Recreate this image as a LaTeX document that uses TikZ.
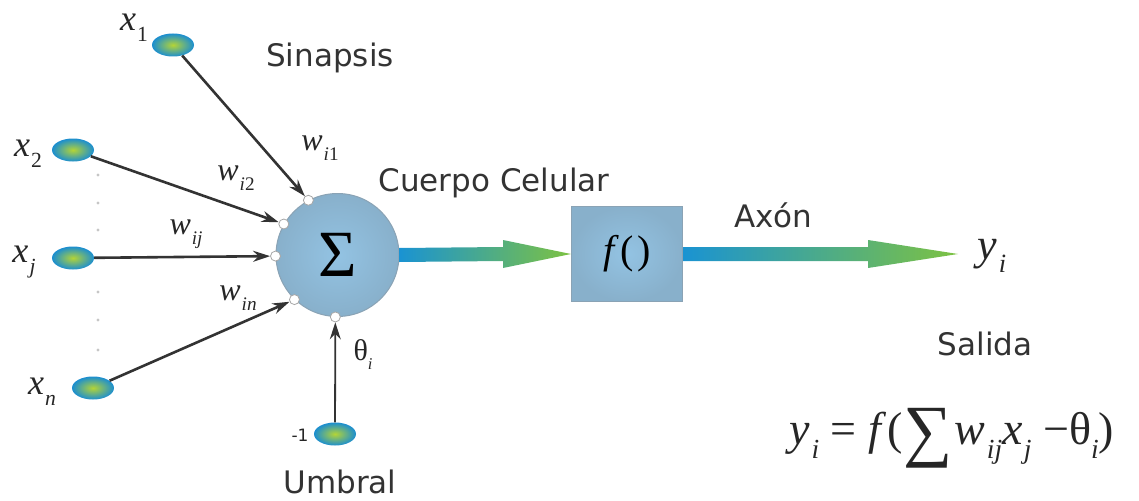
\documentclass[tikz,border=0pt]{standalone}
\usepackage{fontspec}
\setsansfont{DejaVu Sans}
\newfontfamily\tms{Liberation Serif}
\usetikzlibrary{shapes.geometric,arrows.meta,calc}

\definecolor{inblue}{HTML}{1B8ED0}
\definecolor{ingreen}{HTML}{B4D436}
\definecolor{arrblue}{HTML}{1A93D2}
\definecolor{arrgreen}{HTML}{7DC242}
\definecolor{somain}{HTML}{93C3E3}
\definecolor{somaout}{HTML}{88B0CB}
\definecolor{somaedge}{HTML}{8AA3B5}
\definecolor{txt}{HTML}{333333}

% italic symbol with a lowered, reduced index
\newcommand\var[2]{{\itshape #1}\kern0.03em\raisebox{-0.3em}{\scalebox{0.6}{#2}}}

\begin{document}
\begin{tikzpicture}[x=1pt,y=-1pt,
  input/.style={ellipse, minimum width=42pt, minimum height=23pt, inner sep=0pt,
                inner color=ingreen, outer color=inblue},
  syn/.style={circle, draw=gray!70, fill=white, minimum size=10pt, inner sep=0pt, line width=0.8pt},
  wire/.style={draw=black!80, line width=2.6pt, -{Stealth[length=17pt,width=11pt]}},
  lbl/.style={font=\sffamily\fontsize{31}{34}\selectfont, text=txt},
  xlbl/.style={font=\tms\fontsize{36}{38}\selectfont, text=black!85},
  wlbl/.style={font=\tms\fontsize{32}{34}\selectfont, text=black!85},
  dot/.style={gray!45}
]
\useasboundingbox (0,0) rectangle (1139,500);

% inputs
\node[input] (x1) at (173,45) {};
\node[input] (x2) at (73,150) {};
\node[input] (xj) at (73,258) {};
\node[input] (xn) at (93,388) {};
\node[input] (bias) at (335,434) {};

\node[xlbl] (lx1) at (134,28) {\var{x}{1}};
\node[xlbl] (lx2) at (28,154) {\var{x}{2}};
\node[xlbl] (lxj) at (24,262) {\var{x}{\itshape j}};
\node[xlbl] (lxn) at (42,392) {\var{x}{\itshape n}};
\node[font=\sffamily\fontsize{17}{19}\selectfont, text=black!85] (lm1) at (300,435) {-1};

% elided inputs
\foreach \yy in {175,203,230,292,320,350}
  \fill[dot] (98,\yy) circle (1.6pt);

% cell body
\node[circle, minimum size=123pt, inner sep=0pt, draw=somaedge, line width=1pt,
      inner color=somain, outer color=somaout] (sum) at (337.5,255)
      {\tms\fontsize{66}{66}\selectfont Σ};

% synapses on the cell body
\node[syn] (s1) at (sum.118) {};
\node[syn] (s2) at (sum.150) {};
\node[syn] (sj) at (sum.181) {};
\node[syn] (sn) at (sum.226) {};
\node[syn] (sb) at (sum.268) {};

\draw[wire] (x1) -- (s1);
\draw[wire] (x2) -- (s2);
\draw[wire] (xj) -- (sj);
\draw[wire] (xn) -- (sn);
\draw[wire, line width=1.8pt] (bias) -- (sb);

% weights
\node[wlbl] (w1) at (320,148) {\var{w}{\itshape i\upshape 1}};
\node[wlbl] (w2) at (236,178) {\var{w}{\itshape i\upshape 2}};
\node[wlbl] (wj) at (186,234) {\var{w}{\itshape ij}};
\node[wlbl] (wn) at (238,298) {\var{w}{\itshape in}};
\node[font=\tms\fontsize{30}{32}\selectfont, text=black!85] (th) at (363,355) {θ\raisebox{-0.3em}{\scalebox{0.55}{\itshape i}}};

% activation
\node[draw=somaedge, line width=1pt, inner color=somain, outer color=somaout,
      minimum width=111pt, minimum height=95pt, inner sep=0pt] (fbox) at (627,254)
      {\tms\fontsize{40}{42}\selectfont\itshape f\kern0.15em\upshape(\kern0.1em)};

% cell body -> activation
\path[left color=arrblue, right color=arrgreen]
  ($(sum.east)+(0,-7)$) -- ($(fbox.west)+(-68,-7)$) -- ($(fbox.west)+(-68,-14)$)
  -- (fbox.west) -- ($(fbox.west)+(-68,14)$) -- ($(fbox.west)+(-68,7)$)
  -- ($(sum.east)+(0,7)$) -- cycle;

% axon
\coordinate (out) at (958,254);
\path[left color=arrblue, right color=arrgreen]
  ($(fbox.east)+(0,-7)$) -- ($(out)+(-90,-7)$) -- ($(out)+(-90,-14)$)
  -- (out) -- ($(out)+(-90,14)$) -- ($(out)+(-90,7)$)
  -- ($(fbox.east)+(0,7)$) -- cycle;

\node[font=\tms\fontsize{44}{46}\selectfont, text=black!85] (yi) at (992,256) {\var{y}{\itshape i}};

% captions
\node[lbl] (cap1) at (330,58) {Sinapsis};
\node[lbl] (cap2) at (494,183) {Cuerpo Celular};
\node[lbl] (cap3) at (773,215) {Axón};
\node[lbl] (cap4) at (985,344) {Salida};
\node[lbl, anchor=base, inner sep=0pt] (cap5) at (340,493) {Umbral};

% output equation
\node[font=\tms\fontsize{46}{48}\selectfont, text=black!85] (eq) at (952,438)
  {\var{y}{\itshape i} = \itshape f\upshape\kern0.15em(\raisebox{-0.18em}{\scalebox{1.5}{∑}}\kern0.05em\var{w}{\itshape ij}\var{x}{\itshape j} −θ\raisebox{-0.3em}{\scalebox{0.6}{\itshape i}})};
\end{tikzpicture}
\end{document}
